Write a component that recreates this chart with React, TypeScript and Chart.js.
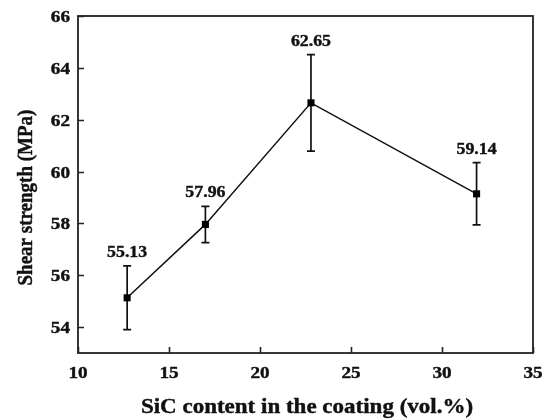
import React, { useEffect, useRef } from "react";
import { Chart, registerables } from "chart.js";

Chart.register(...registerables);

const sicContent = [12.7, 17.0, 22.8, 31.9];
const shearStrength = [55.13, 57.96, 62.65, 59.14];
const errorBars = [1.23, 0.7, 1.86, 1.2];
const pointLabels = ["55.13", "57.96", "62.65", "59.14"];
const xTicks = [10, 15, 20, 25, 30, 35];
const yTicks = [54, 56, 58, 60, 62, 64, 66];
const xTitle = "SiC content in the coating (vol.%)";
const yTitle = "Shear strength (MPa)";

const FONT = "'Liberation Serif', 'Times New Roman', serif";
const SX = 1.13;
const TEXT_STROKE = 0.4;

function stretchedText(ctx: CanvasRenderingContext2D, text: string, x: number, y: number, align: CanvasTextAlign, sx: number) {
  ctx.save();
  ctx.translate(x, y);
  ctx.scale(sx, 1);
  ctx.textAlign = align;
  ctx.fillText(text, 0, 0);
  ctx.strokeText(text, 0, 0);
  ctx.restore();
}

const customPlugin = {
  id: "custom",
  beforeDatasetsDraw(chart: any) {
    const ctx = chart.ctx;
    const xs = chart.scales.x;
    const ys = chart.scales.y;
    ctx.save();
    ctx.strokeStyle = "#111";
    ctx.lineWidth = 1.7;
    for (let i = 0; i < sicContent.length; i++) {
      const px = xs.getPixelForValue(sicContent[i]);
      const top = ys.getPixelForValue(shearStrength[i] + errorBars[i]);
      const bot = ys.getPixelForValue(shearStrength[i] - errorBars[i]);
      ctx.beginPath();
      ctx.moveTo(px, top);
      ctx.lineTo(px, bot);
      ctx.moveTo(px - 4, top);
      ctx.lineTo(px + 4, top);
      ctx.moveTo(px - 4, bot);
      ctx.lineTo(px + 4, bot);
      ctx.stroke();
    }
    ctx.restore();
  },
  afterDraw(chart: any) {
    const ctx: CanvasRenderingContext2D = chart.ctx;
    const a = chart.chartArea;
    const xs = chart.scales.x;
    const ys = chart.scales.y;
    ctx.save();
    // frame
    ctx.strokeStyle = "#222";
    ctx.lineWidth = 1.8;
    ctx.strokeRect(a.left, a.top, a.right - a.left, a.bottom - a.top);
    // inside ticks
    ctx.lineWidth = 1.6;
    ctx.beginPath();
    for (const v of xTicks) {
      const px = Math.round(xs.getPixelForValue(v)) + 0.5;
      ctx.moveTo(px, a.bottom);
      ctx.lineTo(px, a.bottom - 6);
    }
    for (const v of yTicks) {
      const py = Math.round(ys.getPixelForValue(v)) + 0.5;
      ctx.moveTo(a.left, py);
      ctx.lineTo(a.left + 6, py);
    }
    ctx.stroke();
    ctx.fillStyle = "#111";
    ctx.strokeStyle = "#111";
    ctx.lineWidth = TEXT_STROKE;
    ctx.lineJoin = "round";
    ctx.textBaseline = "alphabetic";
    // tick labels
    ctx.font = `bold 17px ${FONT}`;
    for (const v of yTicks) {
      const py = ys.getPixelForValue(v);
      stretchedText(ctx, String(v), a.left - 8, py + 6, "right", SX);
    }
    for (const v of xTicks) {
      const px = xs.getPixelForValue(v);
      stretchedText(ctx, String(v), px, a.bottom + 24.5, "center", SX);
    }
    // point labels
    ctx.font = `bold 16.5px ${FONT}`;
    for (let i = 0; i < sicContent.length; i++) {
      const px = xs.getPixelForValue(sicContent[i]);
      const top = ys.getPixelForValue(shearStrength[i] + errorBars[i]);
      stretchedText(ctx, pointLabels[i], px, top - 9, "center", 1.08);
    }
    // axis titles
    ctx.font = `bold 20px ${FONT}`;
    stretchedText(ctx, xTitle, 307, 412.5, "center", 1.15);
    ctx.save();
    ctx.font = `bold 19px ${FONT}`;
    ctx.translate(32, 197.5);
    ctx.rotate(-Math.PI / 2);
    ctx.scale(1, 1.13);
    ctx.textAlign = "center";
    ctx.fillText(yTitle, 0, 0);
    ctx.strokeText(yTitle, 0, 0);
    ctx.restore();
    ctx.restore();
  },
};

export default function App() {
  const ref = useRef<HTMLCanvasElement | null>(null);
  useEffect(() => {
    if (!ref.current) return;
    const chart = new Chart(ref.current, {
      type: "line",
      data: {
        datasets: [
          {
            data: sicContent.map((x, i) => ({ x, y: shearStrength[i] })),
            borderColor: "#111",
            backgroundColor: "#000",
            borderWidth: 1.5,
            pointStyle: "rect",
            pointRadius: 5,
            pointBorderWidth: 0,
            tension: 0,
          },
        ],
      },
      options: {
        animation: false,
        responsive: true,
        maintainAspectRatio: false,
        layout: { padding: { top: 16, right: 19, left: 0, bottom: 0 } },
        plugins: { legend: { display: false }, tooltip: { enabled: false } },
        scales: {
          x: {
            type: "linear",
            min: 10,
            max: 35,
            grid: { display: false, drawTicks: false },
            border: { display: false },
            afterBuildTicks: (s: any) => {
              s.ticks = xTicks.map((v) => ({ value: v }));
            },
            afterFit: (s: any) => {
              s.height = 66;
            },
            ticks: { display: false },
          },
          y: {
            type: "linear",
            min: 53,
            max: 66,
            grid: { display: false, drawTicks: false },
            border: { display: false },
            afterBuildTicks: (s: any) => {
              s.ticks = yTicks.map((v) => ({ value: v }));
            },
            afterFit: (s: any) => {
              s.width = 78;
            },
            ticks: { display: false },
          },
        },
      },
      plugins: [customPlugin],
    } as any);
    return () => chart.destroy();
  }, []);
  return (
    <div style={{ position: "absolute", left: 0, top: 0, width: 552, height: 419, background: "#fff" }}>
      <canvas ref={ref} />
    </div>
  );
}
